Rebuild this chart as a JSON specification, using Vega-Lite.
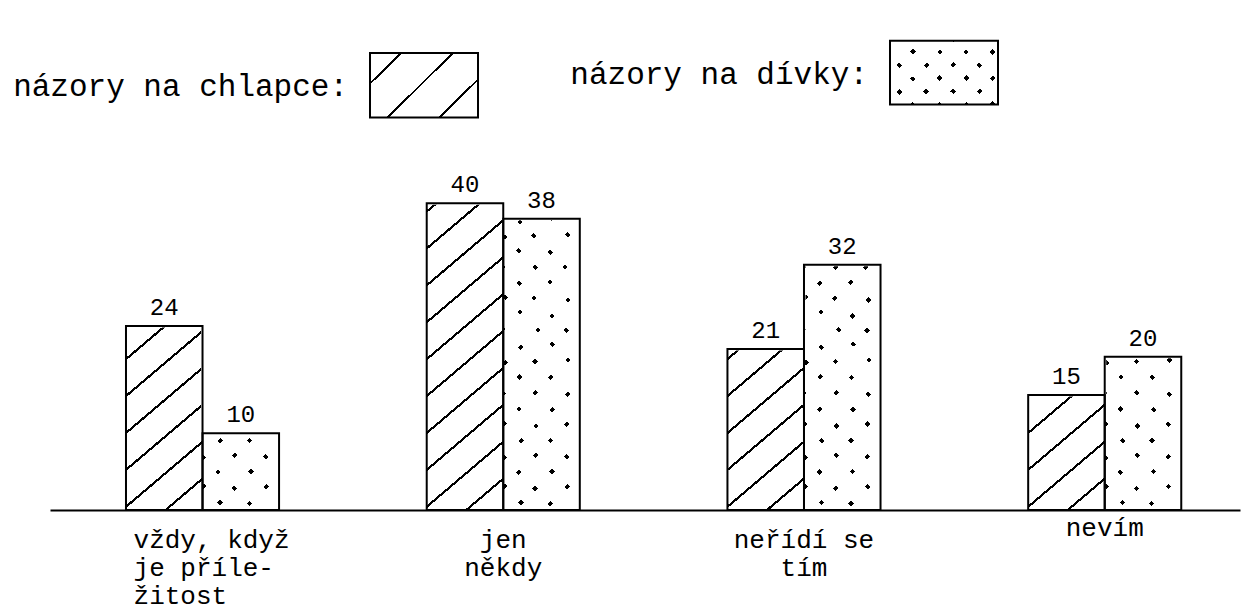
{
  "$schema": "https://vega.github.io/schema/vega-lite/v6.json",
  "width": 1190,
  "height": 345,
  "autosize": "none",
  "padding": {"left": 50, "top": 165, "right": 5, "bottom": 101},
  "background": "white",
  "config": {"view": {"stroke": null}},
  "datasets": {
    "hodnoty": [
      {"kategorie": "vždy, když\nje příle-\nžitost", "skupina": "chlapce", "hodnota": 24},
      {"kategorie": "vždy, když\nje příle-\nžitost", "skupina": "dívky", "hodnota": 10},
      {"kategorie": "jen\nněkdy", "skupina": "chlapce", "hodnota": 40},
      {"kategorie": "jen\nněkdy", "skupina": "dívky", "hodnota": 38},
      {"kategorie": "neřídí se\ntím", "skupina": "chlapce", "hodnota": 21},
      {"kategorie": "neřídí se\ntím", "skupina": "dívky", "hodnota": 32},
      {"kategorie": "nevím", "skupina": "chlapce", "hodnota": 15},
      {"kategorie": "nevím", "skupina": "dívky", "hodnota": 20}
    ],
    "legenda": [
      {"skupina": "chlapce", "popis": "názory na chlapce:"},
      {"skupina": "dívky", "popis": "názory na dívky:"}
    ]
  },
  "resolve": {"scale": {"x": "independent"}},
  "layer": [
    {
      "data": {"name": "hodnoty"},
      "encoding": {
        "x": {
          "field": "kategorie", "type": "nominal", "sort": null,
          "scale": {"paddingInner": 0.491, "paddingOuter": 0.224, "align": 0.564},
          "axis": {
            "title": null, "ticks": false, "grid": false,
            "domain": true, "domainColor": "black", "domainWidth": 2,
            "labelAngle": 0,
            "labelFont": "Liberation Mono", "labelFontSize": 26, "labelColor": "black",
            "labelPadding": {"condition": {"test": "datum.value === 'nevím'", "value": 4}, "value": 16},
            "labelLimit": 0, "labelOverlap": false, "labelLineHeight": 28,
            "labelBaseline": "top",
            "labelAlign": {"condition": {"test": "indexof(datum.value, 'vždy') === 0", "value": "left"}, "value": "center"},
            "labelOffset": {"condition": {"test": "indexof(datum.value, 'vždy') === 0", "value": -69}, "value": 0},
            "labelExpr": "split(datum.label, '\\n')"
          }
        },
        "xOffset": {
          "field": "skupina", "type": "nominal", "sort": null,
          "scale": {"domain": ["chlapce", "dívky"], "paddingInner": 0, "paddingOuter": 0}
        }
      },
      "layer": [
        {
          "transform": [{"filter": "datum.skupina === 'chlapce'"}],
          "mark": {
            "type": "bar", "stroke": null,
            "fill": {
              "gradient": "linear", "x1": 0, "y1": 0, "x2": 0.2164, "y2": 1.1477,
              "stops": [
                {"offset": 0, "color": "white"},
                {"offset": 0.020, "color": "white"}, {"offset": 0.020, "color": "black"}, {"offset": 0.027, "color": "black"}, {"offset": 0.027, "color": "white"},
                {"offset": 0.110, "color": "white"}, {"offset": 0.110, "color": "black"}, {"offset": 0.117, "color": "black"}, {"offset": 0.117, "color": "white"},
                {"offset": 0.200, "color": "white"}, {"offset": 0.200, "color": "black"}, {"offset": 0.207, "color": "black"}, {"offset": 0.207, "color": "white"},
                {"offset": 0.290, "color": "white"}, {"offset": 0.290, "color": "black"}, {"offset": 0.297, "color": "black"}, {"offset": 0.297, "color": "white"},
                {"offset": 0.380, "color": "white"}, {"offset": 0.380, "color": "black"}, {"offset": 0.387, "color": "black"}, {"offset": 0.387, "color": "white"},
                {"offset": 0.470, "color": "white"}, {"offset": 0.470, "color": "black"}, {"offset": 0.477, "color": "black"}, {"offset": 0.477, "color": "white"},
                {"offset": 0.560, "color": "white"}, {"offset": 0.560, "color": "black"}, {"offset": 0.567, "color": "black"}, {"offset": 0.567, "color": "white"},
                {"offset": 0.650, "color": "white"}, {"offset": 0.650, "color": "black"}, {"offset": 0.657, "color": "black"}, {"offset": 0.657, "color": "white"},
                {"offset": 0.740, "color": "white"}, {"offset": 0.740, "color": "black"}, {"offset": 0.747, "color": "black"}, {"offset": 0.747, "color": "white"},
                {"offset": 0.830, "color": "white"}, {"offset": 0.830, "color": "black"}, {"offset": 0.837, "color": "black"}, {"offset": 0.837, "color": "white"},
                {"offset": 0.920, "color": "white"}, {"offset": 0.920, "color": "black"}, {"offset": 0.927, "color": "black"}, {"offset": 0.927, "color": "white"},
                {"offset": 1, "color": "white"}
              ]
            }
          },
          "encoding": {
            "y": {"datum": 0, "type": "quantitative", "scale": {"domain": [0, 45], "nice": false}, "axis": null},
            "y2": {"datum": 45}
          }
        },
        {
          "transform": [{"filter": "datum.skupina === 'dívky'"}],
          "mark": {"type": "bar", "stroke": null, "fill": "black"},
          "encoding": {
            "y": {"datum": 0, "type": "quantitative", "scale": {"domain": [0, 45], "nice": false}, "axis": null},
            "y2": {"datum": 45}
          }
        },
        {
          "transform": [{"filter": "datum.skupina === 'dívky'"}],
          "mark": {
            "type": "bar", "stroke": null,
            "fill": {
              "gradient": "linear", "x1": 0, "y1": 0, "x2": 0.2582, "y2": 1.1645,
              "stops": [
                {"offset": 0, "color": "white"},
                {"offset": 0.015, "color": "white"}, {"offset": 0.015, "color": "rgba(255,255,255,0)"}, {"offset": 0.028, "color": "rgba(255,255,255,0)"}, {"offset": 0.028, "color": "white"},
                {"offset": 0.087, "color": "white"}, {"offset": 0.087, "color": "rgba(255,255,255,0)"}, {"offset": 0.100, "color": "rgba(255,255,255,0)"}, {"offset": 0.100, "color": "white"},
                {"offset": 0.168, "color": "white"}, {"offset": 0.168, "color": "rgba(255,255,255,0)"}, {"offset": 0.181, "color": "rgba(255,255,255,0)"}, {"offset": 0.181, "color": "white"},
                {"offset": 0.234, "color": "white"}, {"offset": 0.234, "color": "rgba(255,255,255,0)"}, {"offset": 0.247, "color": "rgba(255,255,255,0)"}, {"offset": 0.247, "color": "white"},
                {"offset": 0.312, "color": "white"}, {"offset": 0.312, "color": "rgba(255,255,255,0)"}, {"offset": 0.325, "color": "rgba(255,255,255,0)"}, {"offset": 0.325, "color": "white"},
                {"offset": 0.382, "color": "white"}, {"offset": 0.382, "color": "rgba(255,255,255,0)"}, {"offset": 0.395, "color": "rgba(255,255,255,0)"}, {"offset": 0.395, "color": "white"},
                {"offset": 0.467, "color": "white"}, {"offset": 0.467, "color": "rgba(255,255,255,0)"}, {"offset": 0.480, "color": "rgba(255,255,255,0)"}, {"offset": 0.480, "color": "white"},
                {"offset": 0.535, "color": "white"}, {"offset": 0.535, "color": "rgba(255,255,255,0)"}, {"offset": 0.548, "color": "rgba(255,255,255,0)"}, {"offset": 0.548, "color": "white"},
                {"offset": 0.610, "color": "white"}, {"offset": 0.610, "color": "rgba(255,255,255,0)"}, {"offset": 0.623, "color": "rgba(255,255,255,0)"}, {"offset": 0.623, "color": "white"},
                {"offset": 0.690, "color": "white"}, {"offset": 0.690, "color": "rgba(255,255,255,0)"}, {"offset": 0.703, "color": "rgba(255,255,255,0)"}, {"offset": 0.703, "color": "white"},
                {"offset": 0.759, "color": "white"}, {"offset": 0.759, "color": "rgba(255,255,255,0)"}, {"offset": 0.772, "color": "rgba(255,255,255,0)"}, {"offset": 0.772, "color": "white"},
                {"offset": 0.836, "color": "white"}, {"offset": 0.836, "color": "rgba(255,255,255,0)"}, {"offset": 0.849, "color": "rgba(255,255,255,0)"}, {"offset": 0.849, "color": "white"},
                {"offset": 0.908, "color": "white"}, {"offset": 0.908, "color": "rgba(255,255,255,0)"}, {"offset": 0.921, "color": "rgba(255,255,255,0)"}, {"offset": 0.921, "color": "white"},
                {"offset": 1, "color": "white"}
              ]
            }
          },
          "encoding": {
            "y": {"datum": 0, "type": "quantitative", "scale": {"domain": [0, 45], "nice": false}, "axis": null},
            "y2": {"datum": 45}
          }
        },
        {
          "transform": [{"filter": "datum.skupina === 'dívky'"}],
          "mark": {
            "type": "bar", "stroke": null,
            "fill": {
              "gradient": "linear", "x1": 1, "y1": 0, "x2": 0.7418, "y2": 1.1645,
              "stops": [
                {"offset": 0, "color": "white"},
                {"offset": 0.040, "color": "white"}, {"offset": 0.040, "color": "rgba(255,255,255,0)"}, {"offset": 0.053, "color": "rgba(255,255,255,0)"}, {"offset": 0.053, "color": "white"},
                {"offset": 0.119, "color": "white"}, {"offset": 0.119, "color": "rgba(255,255,255,0)"}, {"offset": 0.132, "color": "rgba(255,255,255,0)"}, {"offset": 0.132, "color": "white"},
                {"offset": 0.187, "color": "white"}, {"offset": 0.187, "color": "rgba(255,255,255,0)"}, {"offset": 0.200, "color": "rgba(255,255,255,0)"}, {"offset": 0.200, "color": "white"},
                {"offset": 0.271, "color": "white"}, {"offset": 0.271, "color": "rgba(255,255,255,0)"}, {"offset": 0.284, "color": "rgba(255,255,255,0)"}, {"offset": 0.284, "color": "white"},
                {"offset": 0.342, "color": "white"}, {"offset": 0.342, "color": "rgba(255,255,255,0)"}, {"offset": 0.355, "color": "rgba(255,255,255,0)"}, {"offset": 0.355, "color": "white"},
                {"offset": 0.418, "color": "white"}, {"offset": 0.418, "color": "rgba(255,255,255,0)"}, {"offset": 0.431, "color": "rgba(255,255,255,0)"}, {"offset": 0.431, "color": "white"},
                {"offset": 0.484, "color": "white"}, {"offset": 0.484, "color": "rgba(255,255,255,0)"}, {"offset": 0.497, "color": "rgba(255,255,255,0)"}, {"offset": 0.497, "color": "white"},
                {"offset": 0.566, "color": "white"}, {"offset": 0.566, "color": "rgba(255,255,255,0)"}, {"offset": 0.579, "color": "rgba(255,255,255,0)"}, {"offset": 0.579, "color": "white"},
                {"offset": 0.639, "color": "white"}, {"offset": 0.639, "color": "rgba(255,255,255,0)"}, {"offset": 0.652, "color": "rgba(255,255,255,0)"}, {"offset": 0.652, "color": "white"},
                {"offset": 0.717, "color": "white"}, {"offset": 0.717, "color": "rgba(255,255,255,0)"}, {"offset": 0.730, "color": "rgba(255,255,255,0)"}, {"offset": 0.730, "color": "white"},
                {"offset": 0.787, "color": "white"}, {"offset": 0.787, "color": "rgba(255,255,255,0)"}, {"offset": 0.800, "color": "rgba(255,255,255,0)"}, {"offset": 0.800, "color": "white"},
                {"offset": 0.867, "color": "white"}, {"offset": 0.867, "color": "rgba(255,255,255,0)"}, {"offset": 0.880, "color": "rgba(255,255,255,0)"}, {"offset": 0.880, "color": "white"},
                {"offset": 0.934, "color": "white"}, {"offset": 0.934, "color": "rgba(255,255,255,0)"}, {"offset": 0.947, "color": "rgba(255,255,255,0)"}, {"offset": 0.947, "color": "white"},
                {"offset": 1, "color": "white"}
              ]
            }
          },
          "encoding": {
            "y": {"datum": 0, "type": "quantitative", "scale": {"domain": [0, 45], "nice": false}, "axis": null},
            "y2": {"datum": 45}
          }
        },
        {
          "mark": {"type": "bar", "fill": "white", "stroke": "white", "strokeWidth": 3},
          "encoding": {
            "y": {"field": "hodnota", "type": "quantitative", "scale": {"domain": [0, 45], "nice": false}, "axis": null},
            "y2": {"datum": 46}
          }
        },
        {
          "mark": {"type": "bar", "fill": "transparent", "stroke": "black", "strokeWidth": 2},
          "encoding": {
            "y": {"field": "hodnota", "type": "quantitative", "scale": {"domain": [0, 45], "nice": false}, "axis": null}
          }
        },
        {
          "mark": {"type": "text", "font": "Liberation Mono", "fontSize": 24, "color": "black", "baseline": "bottom", "dy": -6},
          "encoding": {
            "y": {"field": "hodnota", "type": "quantitative", "scale": {"domain": [0, 45], "nice": false}, "axis": null},
            "text": {"field": "hodnota", "type": "quantitative"}
          }
        }
      ]
    },
    {
      "data": {"name": "legenda"},
      "encoding": {
        "x": {
          "field": "skupina", "type": "nominal", "sort": null,
          "scale": {"domain": ["chlapce", "dívky"], "paddingInner": 0.7923, "paddingOuter": 0.5404, "align": 0.5694},
          "axis": null
        }
      },
      "layer": [
        {
          "transform": [{"filter": "datum.skupina === 'chlapce'"}],
          "mark": {
            "type": "bar", "stroke": "black", "strokeWidth": 2,
            "fill": {
              "gradient": "linear", "x1": 0, "y1": 0, "x2": 1.176, "y2": 0.708,
              "stops": [
                {"offset": 0, "color": "white"},
                {"offset": 0.17, "color": "white"}, {"offset": 0.17, "color": "black"}, {"offset": 0.186, "color": "black"}, {"offset": 0.186, "color": "white"},
                {"offset": 0.47, "color": "white"}, {"offset": 0.47, "color": "black"}, {"offset": 0.486, "color": "black"}, {"offset": 0.486, "color": "white"},
                {"offset": 0.77, "color": "white"}, {"offset": 0.77, "color": "black"}, {"offset": 0.786, "color": "black"}, {"offset": 0.786, "color": "white"},
                {"offset": 1, "color": "white"}
              ]
            }
          },
          "encoding": {
            "y": {"datum": 59.6, "type": "quantitative", "scale": {"domain": [0, 45], "nice": false}, "axis": null},
            "y2": {"datum": 51.2}
          }
        },
        {
          "transform": [{"filter": "datum.skupina === 'dívky'"}],
          "mark": {"type": "bar", "stroke": null, "fill": "black"},
          "encoding": {
            "y": {"datum": 61.2, "type": "quantitative", "scale": {"domain": [0, 45], "nice": false}, "axis": null},
            "y2": {"datum": 52.9}
          }
        },
        {
          "transform": [{"filter": "datum.skupina === 'dívky'"}],
          "mark": {
            "type": "bar", "stroke": null,
            "fill": {
              "gradient": "linear", "x1": 0, "y1": 0, "x2": 1.178, "y2": 0.702,
              "stops": [
                {"offset": 0, "color": "white"},
                {"offset": 0.03, "color": "white"}, {"offset": 0.03, "color": "rgba(255,255,255,0)"}, {"offset": 0.063, "color": "rgba(255,255,255,0)"}, {"offset": 0.063, "color": "white"},
                {"offset": 0.18, "color": "white"}, {"offset": 0.18, "color": "rgba(255,255,255,0)"}, {"offset": 0.213, "color": "rgba(255,255,255,0)"}, {"offset": 0.213, "color": "white"},
                {"offset": 0.34, "color": "white"}, {"offset": 0.34, "color": "rgba(255,255,255,0)"}, {"offset": 0.373, "color": "rgba(255,255,255,0)"}, {"offset": 0.373, "color": "white"},
                {"offset": 0.49, "color": "white"}, {"offset": 0.49, "color": "rgba(255,255,255,0)"}, {"offset": 0.523, "color": "rgba(255,255,255,0)"}, {"offset": 0.523, "color": "white"},
                {"offset": 0.645, "color": "white"}, {"offset": 0.645, "color": "rgba(255,255,255,0)"}, {"offset": 0.678, "color": "rgba(255,255,255,0)"}, {"offset": 0.678, "color": "white"},
                {"offset": 0.80, "color": "white"}, {"offset": 0.80, "color": "rgba(255,255,255,0)"}, {"offset": 0.833, "color": "rgba(255,255,255,0)"}, {"offset": 0.833, "color": "white"},
                {"offset": 0.95, "color": "white"}, {"offset": 0.95, "color": "rgba(255,255,255,0)"}, {"offset": 0.983, "color": "rgba(255,255,255,0)"}, {"offset": 0.983, "color": "white"},
                {"offset": 1, "color": "white"}
              ]
            }
          },
          "encoding": {
            "y": {"datum": 61.2, "type": "quantitative", "scale": {"domain": [0, 45], "nice": false}, "axis": null},
            "y2": {"datum": 52.9}
          }
        },
        {
          "transform": [{"filter": "datum.skupina === 'dívky'"}],
          "mark": {
            "type": "bar", "stroke": null,
            "fill": {
              "gradient": "linear", "x1": 1, "y1": 0, "x2": -0.178, "y2": 0.702,
              "stops": [
                {"offset": 0, "color": "white"},
                {"offset": 0.08, "color": "white"}, {"offset": 0.08, "color": "rgba(255,255,255,0)"}, {"offset": 0.113, "color": "rgba(255,255,255,0)"}, {"offset": 0.113, "color": "white"},
                {"offset": 0.235, "color": "white"}, {"offset": 0.235, "color": "rgba(255,255,255,0)"}, {"offset": 0.268, "color": "rgba(255,255,255,0)"}, {"offset": 0.268, "color": "white"},
                {"offset": 0.385, "color": "white"}, {"offset": 0.385, "color": "rgba(255,255,255,0)"}, {"offset": 0.418, "color": "rgba(255,255,255,0)"}, {"offset": 0.418, "color": "white"},
                {"offset": 0.54, "color": "white"}, {"offset": 0.54, "color": "rgba(255,255,255,0)"}, {"offset": 0.573, "color": "rgba(255,255,255,0)"}, {"offset": 0.573, "color": "white"},
                {"offset": 0.70, "color": "white"}, {"offset": 0.70, "color": "rgba(255,255,255,0)"}, {"offset": 0.733, "color": "rgba(255,255,255,0)"}, {"offset": 0.733, "color": "white"},
                {"offset": 0.855, "color": "white"}, {"offset": 0.855, "color": "rgba(255,255,255,0)"}, {"offset": 0.888, "color": "rgba(255,255,255,0)"}, {"offset": 0.888, "color": "white"},
                {"offset": 1, "color": "white"}
              ]
            }
          },
          "encoding": {
            "y": {"datum": 61.2, "type": "quantitative", "scale": {"domain": [0, 45], "nice": false}, "axis": null},
            "y2": {"datum": 52.9}
          }
        },
        {
          "transform": [{"filter": "datum.skupina === 'dívky'"}],
          "mark": {"type": "bar", "fill": "transparent", "stroke": "black", "strokeWidth": 2},
          "encoding": {
            "y": {"datum": 61.2, "type": "quantitative", "scale": {"domain": [0, 45], "nice": false}, "axis": null},
            "y2": {"datum": 52.9}
          }
        },
        {
          "transform": [{"filter": "datum.skupina === 'chlapce'"}],
          "mark": {"type": "text", "font": "Liberation Mono", "fontSize": 31, "color": "black", "align": "right", "baseline": "middle", "dx": -22},
          "encoding": {
            "x": {"field": "skupina", "type": "nominal", "sort": null, "bandPosition": 0},
            "y": {"datum": 55.2, "type": "quantitative", "scale": {"domain": [0, 45], "nice": false}, "axis": null},
            "text": {"field": "popis", "type": "nominal"}
          }
        },
        {
          "transform": [{"filter": "datum.skupina === 'dívky'"}],
          "mark": {"type": "text", "font": "Liberation Mono", "fontSize": 31, "color": "black", "align": "right", "baseline": "middle", "dx": -22},
          "encoding": {
            "x": {"field": "skupina", "type": "nominal", "sort": null, "bandPosition": 0},
            "y": {"datum": 56.7, "type": "quantitative", "scale": {"domain": [0, 45], "nice": false}, "axis": null},
            "text": {"field": "popis", "type": "nominal"}
          }
        }
      ]
    }
  ]
}
